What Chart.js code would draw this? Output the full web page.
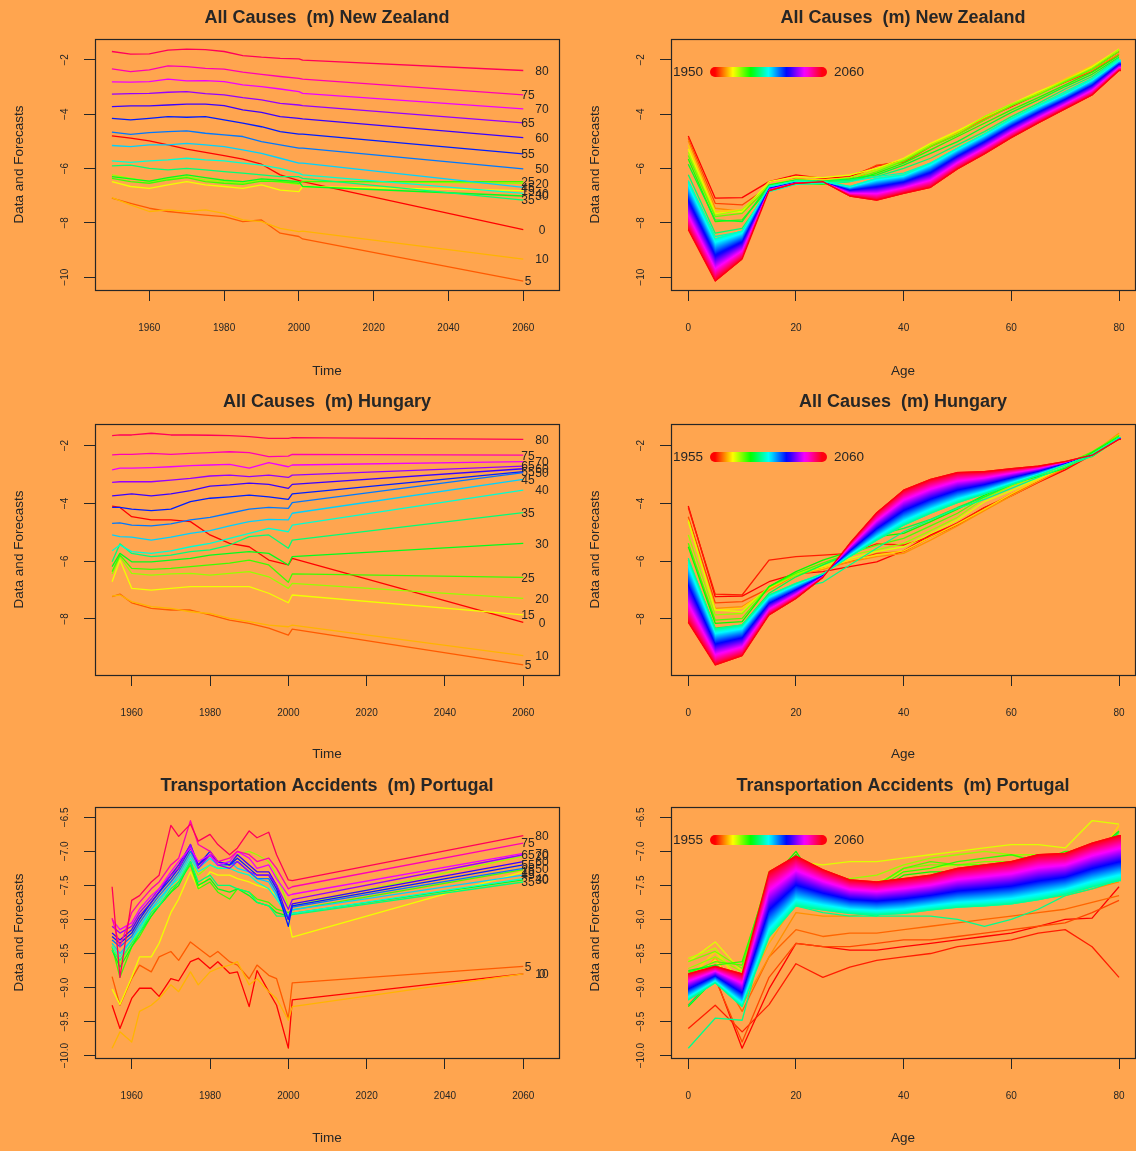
<!DOCTYPE html>
<html>
<head>
<meta charset="utf-8">
<script src="https://cdn.jsdelivr.net/npm/chart.js@4.4.1/dist/chart.umd.min.js"></script>
<style>
  html, body { margin: 0; padding: 0; background: #FFA54F; }
  body { width: 1136px; height: 1151px; position: relative; overflow: hidden; }
  canvas { position: absolute; }
</style>
</head>
<body>
<canvas id="nzTime"></canvas>
<canvas id="nzAge"></canvas>
<canvas id="huTime"></canvas>
<canvas id="huAge"></canvas>
<canvas id="ptTime"></canvas>
<canvas id="ptAge"></canvas>
<script>
// ages 0..80, one series per age
const ages = [0, 5, 10, 15, 20, 25, 30, 35, 40, 45, 50, 55, 60, 65, 70, 75, 80];
const fcStart = 2001;
const fcEnd = 2060;

// New Zealand, all causes (m), log rates
const nzYears = [1950, 1955, 1960, 1965, 1970, 1975, 1980, 1985, 1990, 1995, 2000];
const nzHist = [
  [-4.80, -4.88, -4.98, -5.13, -5.28, -5.40, -5.52, -5.65, -5.84, -6.23, -6.44],
  [-7.09, -7.28, -7.46, -7.58, -7.65, -7.71, -7.77, -7.95, -7.89, -8.38, -8.50],
  [-7.07, -7.34, -7.58, -7.52, -7.58, -7.52, -7.65, -7.89, -7.95, -8.20, -8.32],
  [-6.48, -6.66, -6.73, -6.60, -6.48, -6.60, -6.66, -6.73, -6.60, -6.79, -6.85],
  [-6.23, -6.36, -6.48, -6.38, -6.30, -6.42, -6.48, -6.54, -6.42, -6.50, -6.58],
  [-6.36, -6.48, -6.54, -6.42, -6.33, -6.48, -6.54, -6.58, -6.46, -6.48, -6.54],
  [-6.30, -6.38, -6.46, -6.33, -6.23, -6.33, -6.43, -6.48, -6.38, -6.43, -6.48],
  [-5.90, -5.87, -5.99, -6.05, -5.99, -6.05, -6.11, -6.17, -6.23, -6.30, -6.30],
  [-5.72, -5.77, -5.72, -5.68, -5.62, -5.68, -5.72, -5.80, -5.87, -5.99, -6.17],
  [-5.15, -5.19, -5.13, -5.13, -5.07, -5.13, -5.19, -5.31, -5.44, -5.62, -5.80],
  [-4.66, -4.74, -4.68, -4.64, -4.61, -4.70, -4.76, -4.82, -5.01, -5.13, -5.25],
  [-4.15, -4.21, -4.15, -4.09, -4.11, -4.09, -4.21, -4.33, -4.46, -4.64, -4.73],
  [-3.72, -3.69, -3.69, -3.66, -3.63, -3.63, -3.68, -3.84, -3.93, -4.09, -4.15],
  [-3.26, -3.24, -3.23, -3.19, -3.17, -3.24, -3.29, -3.39, -3.47, -3.60, -3.66],
  [-2.81, -2.82, -2.80, -2.71, -2.77, -2.76, -2.80, -2.92, -2.98, -3.07, -3.17],
  [-2.33, -2.43, -2.37, -2.22, -2.25, -2.31, -2.34, -2.45, -2.53, -2.61, -2.68],
  [-1.69, -1.79, -1.78, -1.64, -1.60, -1.62, -1.69, -1.84, -1.90, -1.94, -1.96]
];
const nzFc2001 = [-6.48, -8.59, -8.30, -6.66, -6.46, -6.48, -6.66, -6.36, -6.23, -5.80, -5.25, -4.73, -4.17, -3.68, -3.23, -2.71, -2.01];
const nzFc2060 = [-8.25, -10.14, -9.33, -6.81, -6.54, -6.48, -7.01, -7.16, -6.91, -6.69, -6.01, -5.46, -4.86, -4.32, -3.80, -3.29, -2.39];

// Hungary, all causes (m)
const huYears = [1955, 1957, 1960, 1965, 1970, 1975, 1980, 1985, 1990, 1995, 2000];
const huHist = [
  [-4.09, -4.14, -4.46, -4.57, -4.57, -4.63, -5.09, -5.38, -5.50, -5.96, -6.13],
  [-7.23, -7.14, -7.44, -7.63, -7.69, -7.69, -7.86, -8.04, -8.15, -8.32, -8.56],
  [-7.21, -7.17, -7.40, -7.57, -7.63, -7.75, -7.81, -7.98, -8.09, -8.21, -8.27],
  [-6.71, -5.96, -6.94, -7.00, -6.94, -6.88, -6.88, -6.88, -6.88, -7.11, -7.44],
  [-6.44, -5.84, -6.42, -6.48, -6.44, -6.42, -6.48, -6.42, -6.36, -6.54, -6.94],
  [-6.36, -5.79, -6.25, -6.28, -6.25, -6.19, -6.13, -6.07, -5.96, -6.13, -6.73],
  [-6.19, -5.73, -6.02, -6.02, -5.96, -5.90, -5.79, -5.73, -5.67, -5.73, -6.13],
  [-6.02, -5.40, -5.73, -5.84, -5.79, -5.67, -5.61, -5.44, -5.15, -5.09, -5.55],
  [-5.64, -5.44, -5.67, -5.73, -5.64, -5.50, -5.38, -5.21, -5.04, -4.86, -4.98],
  [-5.09, -5.15, -5.17, -5.27, -5.17, -5.04, -4.94, -4.78, -4.63, -4.55, -4.57],
  [-4.69, -4.67, -4.75, -4.78, -4.71, -4.57, -4.48, -4.34, -4.20, -4.14, -4.17],
  [-4.14, -4.14, -4.20, -4.25, -4.20, -3.94, -3.82, -3.77, -3.71, -3.77, -3.86],
  [-3.74, -3.71, -3.67, -3.74, -3.67, -3.56, -3.40, -3.36, -3.30, -3.34, -3.48],
  [-3.27, -3.25, -3.25, -3.25, -3.19, -3.13, -3.05, -3.02, -3.07, -3.02, -3.10],
  [-2.84, -2.78, -2.78, -2.76, -2.73, -2.69, -2.67, -2.65, -2.78, -2.59, -2.73],
  [-2.32, -2.30, -2.30, -2.27, -2.30, -2.27, -2.24, -2.21, -2.24, -2.38, -2.36],
  [-1.65, -1.63, -1.63, -1.57, -1.63, -1.63, -1.64, -1.65, -1.69, -1.75, -1.75]
];
const huFc2001 = [-5.90, -8.35, -8.21, -7.17, -6.77, -6.44, -5.84, -5.27, -4.75, -4.34, -3.97, -3.67, -3.34, -3.02, -2.67, -2.30, -1.72];
const huFc2060 = [-8.12, -9.59, -9.27, -7.86, -7.29, -6.56, -5.38, -4.32, -3.54, -3.17, -2.93, -2.90, -2.80, -2.71, -2.55, -2.33, -1.78];

// Portugal, transportation accidents (m)
const ptYears = [1955, 1957, 1960, 1962, 1965, 1967, 1970, 1972, 1975, 1977, 1980, 1982, 1985, 1987, 1990, 1992, 1995, 1997, 2000];
const ptHist = [
  [-9.26, -9.60, -9.16, -9.01, -9.01, -9.13, -8.87, -8.90, -8.62, -8.57, -8.72, -8.62, -8.79, -8.77, -9.28, -8.75, -9.06, -9.26, -9.89],
  [-8.84, -9.26, -8.87, -8.67, -8.77, -8.55, -8.47, -8.60, -8.33, -8.42, -8.55, -8.47, -8.62, -8.67, -8.87, -8.67, -8.82, -8.87, -9.45],
  [-9.89, -9.65, -9.80, -9.35, -9.26, -9.16, -8.96, -9.06, -8.77, -8.96, -8.77, -8.72, -8.67, -8.62, -8.96, -8.87, -9.06, -9.16, -9.48],
  [-9.02, -9.25, -8.85, -8.55, -8.55, -8.35, -7.90, -7.70, -7.30, -7.55, -7.30, -7.35, -7.35, -7.40, -7.45, -7.50, -7.55, -7.65, -8.00],
  [-8.35, -8.65, -8.35, -8.15, -7.90, -7.75, -7.50, -7.40, -7.15, -7.35, -7.20, -7.25, -7.20, -7.05, -7.00, -7.05, -7.15, -7.35, -7.80],
  [-8.40, -8.85, -8.40, -8.25, -7.95, -7.80, -7.60, -7.45, -7.20, -7.55, -7.45, -7.60, -7.70, -7.55, -7.60, -7.70, -7.75, -7.85, -7.90],
  [-8.45, -8.70, -8.40, -8.20, -7.95, -7.80, -7.60, -7.50, -7.15, -7.50, -7.40, -7.55, -7.60, -7.55, -7.65, -7.75, -7.80, -7.90, -7.95],
  [-8.45, -8.60, -8.35, -8.20, -7.90, -7.80, -7.55, -7.45, -7.15, -7.45, -7.35, -7.50, -7.50, -7.55, -7.60, -7.75, -7.80, -7.95, -7.95],
  [-8.40, -8.55, -8.30, -8.15, -7.85, -7.75, -7.50, -7.40, -7.10, -7.30, -7.20, -7.25, -7.25, -7.30, -7.35, -7.45, -7.55, -7.70, -7.95],
  [-8.35, -8.50, -8.30, -8.10, -7.85, -7.70, -7.50, -7.35, -7.05, -7.25, -7.10, -7.20, -7.15, -7.25, -7.30, -7.40, -7.45, -7.65, -7.95],
  [-8.30, -8.40, -8.25, -8.05, -7.80, -7.65, -7.45, -7.30, -7.00, -7.20, -7.05, -7.20, -7.20, -7.15, -7.30, -7.40, -7.40, -7.60, -8.00],
  [-8.25, -8.35, -8.20, -8.00, -7.75, -7.60, -7.40, -7.25, -6.95, -7.20, -7.00, -7.15, -7.20, -7.10, -7.25, -7.35, -7.35, -7.55, -8.10],
  [-8.20, -8.30, -8.15, -7.95, -7.75, -7.60, -7.35, -7.20, -6.90, -7.20, -7.05, -7.15, -7.20, -7.05, -7.20, -7.30, -7.30, -7.50, -8.00],
  [-8.10, -8.20, -8.10, -7.90, -7.70, -7.55, -7.35, -7.25, -6.90, -7.25, -7.05, -7.20, -7.25, -7.15, -7.30, -7.35, -7.35, -7.50, -7.85],
  [-8.00, -8.15, -8.05, -7.85, -7.65, -7.55, -7.30, -7.15, -6.95, -7.15, -7.05, -7.20, -7.15, -7.00, -7.10, -7.25, -7.20, -7.40, -7.65],
  [-7.98, -8.40, -7.90, -7.75, -7.55, -7.45, -7.20, -7.10, -6.55, -6.90, -7.00, -7.15, -7.10, -7.00, -7.05, -7.15, -7.10, -7.25, -7.55],
  [-7.52, -8.85, -7.72, -7.65, -7.45, -7.35, -6.62, -6.78, -6.60, -6.85, -6.75, -6.90, -7.05, -6.95, -6.70, -6.80, -6.72, -7.05, -7.42]
];
const ptFc2001 = [-9.18, -8.93, -9.28, -8.26, -7.80, -7.86, -7.91, -7.93, -7.91, -7.86, -7.82, -7.80, -7.77, -7.71, -7.63, -7.52, -7.43];
const ptFc2060 = [-8.80, -8.69, -8.80, -7.30, -7.07, -7.27, -7.42, -7.45, -7.40, -7.35, -7.25, -7.20, -7.15, -7.05, -7.03, -6.88, -6.77];

// tick labels
const timeTicks = [1960, 1980, 2000, 2020, 2040, 2060];
const ageTicks = [0, 20, 40, 60, 80];
const nzYTicks = [-10, -8, -6, -4, -2];
const huYTicks = [-8, -6, -4, -2];
const ptYTicks = [-10, -9.5, -9, -8.5, -8, -7.5, -7, -6.5];

const FONT = '"Liberation Sans", Arial, Helvetica, sans-serif';
const INK = '#262626';

const hsv = h => `hsl(${h},100%,50%)`;
const ageColor = i => hsv(i * 360 / ages.length);
const yearColor = (yr, y0) => hsv((yr - y0) * 360 / (fcEnd - y0 + 1));
const minusFmt = dec => v => (v < 0 ? '\u2212' : '') + Math.abs(v).toFixed(dec);

// page layout of the six panels
const rows = [
  { top: 0, h: 384, boxTop: 39, boxBottom: 290, titleY: 18 },
  { top: 384, h: 383, boxTop: 40, boxBottom: 291, titleY: 18 },
  { top: 767, h: 384, boxTop: 40, boxBottom: 291, titleY: 19 }
];

const panels = [
  { id: 'nzTime', kind: 'time', row: 0, col: 0, title: 'All Causes  (m) New Zealand', years: nzYears, hist: nzHist, f1: nzFc2001, f2: nzFc2060, yTicks: nzYTicks, dec: 0, yMin: -10.47, yMax: -1.23, xMin: 1945.48, xMax: 2069.55, yPad: 10.5 },
  { id: 'nzAge', kind: 'age', row: 0, col: 1, title: 'All Causes  (m) New Zealand', years: nzYears, hist: nzHist, f1: nzFc2001, f2: nzFc2060, yTicks: nzYTicks, dec: 0, yMin: -10.47, yMax: -1.23, xMin: -3.21, xMax: 82.97, yPad: 10.5 },
  { id: 'huTime', kind: 'time', row: 1, col: 0, title: 'All Causes  (m) Hungary', years: huYears, hist: huHist, f1: huFc2001, f2: huFc2060, yTicks: huYTicks, dec: 0, yMin: -9.94, yMax: -1.25, xMin: 1950.63, xMax: 2069.12, yPad: 13.3 },
  { id: 'huAge', kind: 'age', row: 1, col: 1, title: 'All Causes  (m) Hungary', years: huYears, hist: huHist, f1: huFc2001, f2: huFc2060, yTicks: huYTicks, dec: 0, yMin: -9.94, yMax: -1.25, xMin: -3.21, xMax: 82.97, yPad: 13.3 },
  { id: 'ptTime', kind: 'time', row: 2, col: 0, title: 'Transportation Accidents  (m) Portugal', years: ptYears, hist: ptHist, f1: ptFc2001, f2: ptFc2060, yTicks: ptYTicks, dec: 1, yMin: -10.034, yMax: -6.349, xMin: 1950.63, xMax: 2069.12, yPad: 6.4 },
  { id: 'ptAge', kind: 'age', row: 2, col: 1, title: 'Transportation Accidents  (m) Portugal', years: ptYears, hist: ptHist, f1: ptFc2001, f2: ptFc2060, yTicks: ptYTicks, dec: 1, yMin: -10.034, yMax: -6.349, xMin: -3.21, xMax: 82.97, yPad: 6.4 }
];

// box round the plot region and the panel title
const framePlugin = {
  id: 'frame',
  afterDraw(chart, args, o) {
    const { ctx, chartArea: ca } = chart;
    ctx.save();
    ctx.strokeStyle = INK;
    ctx.lineWidth = 1.2;
    ctx.strokeRect(Math.round(ca.left) + 0.5, Math.round(ca.top) + 0.5, Math.round(ca.width), Math.round(ca.height));
    ctx.fillStyle = INK;
    ctx.font = 'bold 18px ' + FONT;
    ctx.textAlign = 'center';
    ctx.textBaseline = 'middle';
    ctx.fillText(o.text, (ca.left + ca.right) / 2, o.y);
    ctx.restore();
  }
};

// age labels at the 2060 ends of the forecast lines
const endLabels = {
  id: 'endLabels',
  afterDatasetsDraw(chart, args, o) {
    if (!o.ends) return;
    const { ctx } = chart;
    const xs = chart.scales.x, ys = chart.scales.y;
    const x0 = xs.getPixelForValue(fcEnd);
    ctx.save();
    ctx.font = '12px ' + FONT;
    ctx.fillStyle = INK;
    ctx.textAlign = 'center';
    ctx.textBaseline = 'middle';
    ages.forEach((a, i) => {
      ctx.fillText(String(a), x0 + (i % 2 ? 4.7 : 18.7), ys.getPixelForValue(o.ends[i]) + 1);
    });
    ctx.restore();
  }
};

// the forecast years fill the space between the 2001 and 2060 profiles
const bandPlugin = {
  id: 'fcBand',
  beforeDatasetDraw(chart, args) {
    const ds = chart.data.datasets[args.index];
    if (!ds.band) return;
    const { lo, hi, y0 } = ds.band;
    const { ctx, chartArea: ca } = chart;
    const xs = chart.scales.x, ys = chart.scales.y;
    const px = ages.map(a => xs.getPixelForValue(a));
    const pa = lo.map(v => ys.getPixelForValue(v));
    const pb = hi.map(v => ys.getPixelForValue(v));
    const n = 24;
    ctx.save();
    ctx.beginPath();
    ctx.rect(ca.left, ca.top, ca.width, ca.height);
    ctx.clip();
    const last = px.length - 1;
    for (let c = Math.floor(px[0]); c <= Math.ceil(px[last]); c++) {
      const cx = Math.min(Math.max(c + 0.5, px[0]), px[last]);
      let k = 0;
      while (k < last - 1 && cx > px[k + 1]) k++;
      const t = (cx - px[k]) / (px[k + 1] - px[k]);
      const ya = pa[k] + t * (pa[k + 1] - pa[k]);
      const yb = pb[k] + t * (pb[k + 1] - pb[k]);
      if (Math.abs(yb - ya) < 0.5) {
        ctx.fillStyle = yearColor((fcStart + fcEnd) / 2, y0);
      } else {
        const g = ctx.createLinearGradient(0, ya, 0, yb);
        for (let s = 0; s <= n; s++) g.addColorStop(s / n, yearColor(fcStart + (fcEnd - fcStart) * s / n, y0));
        ctx.fillStyle = g;
      }
      ctx.fillRect(c, Math.min(ya, yb) - 0.7, 1, Math.abs(yb - ya) + 1.4);
    }
    ctx.restore();
  }
};

// "1950 ===== 2060" colour key
const yearKey = {
  id: 'yearKey',
  afterDraw(chart, args, o) {
    if (o.y0 == null) return;
    const { ctx, chartArea: ca } = chart;
    const yc = ca.top + 33;
    const x1 = ca.left + 44, x2 = ca.left + 151;
    ctx.save();
    const g = ctx.createLinearGradient(x1, 0, x2, 0);
    const n = 30;
    for (let s = 0; s <= n; s++) g.addColorStop(s / n, yearColor(o.y0 + (fcEnd - o.y0) * s / n, o.y0));
    ctx.strokeStyle = g;
    ctx.lineWidth = 10;
    ctx.lineCap = 'round';
    ctx.beginPath();
    ctx.moveTo(x1, yc);
    ctx.lineTo(x2, yc);
    ctx.stroke();
    ctx.fillStyle = INK;
    ctx.font = '13.5px ' + FONT;
    ctx.textBaseline = 'middle';
    ctx.textAlign = 'right';
    ctx.fillText(String(o.y0), ca.left + 32, yc);
    ctx.textAlign = 'left';
    ctx.fillText(String(fcEnd), ca.left + 163, yc);
    ctx.restore();
  }
};

function timeSets(p) {
  return ages.map((a, i) => ({
    data: p.years.map((yr, j) => ({ x: yr, y: p.hist[i][j] }))
      .concat([{ x: fcStart, y: p.f1[i] }, { x: fcEnd, y: p.f2[i] }]),
    borderColor: ageColor(i),
    order: 100 - i
  }));
}

function ageSets(p) {
  const y0 = p.years[0];
  const sets = p.years.map((yr, j) => ({
    data: ages.map((a, i) => ({ x: a, y: p.hist[i][j] })),
    borderColor: yearColor(yr, y0),
    order: 1000 - j
  }));
  sets.push({
    data: ages.map((a, i) => ({ x: a, y: p.f1[i] })),
    borderColor: yearColor(fcStart, y0),
    order: 1,
    band: { lo: p.f1, hi: p.f2, y0 }
  });
  sets.push({
    data: ages.map((a, i) => ({ x: a, y: p.f2[i] })),
    borderColor: yearColor(fcEnd, y0),
    order: 0
  });
  return sets;
}

function build(p) {
  const row = rows[p.row];
  const cv = document.getElementById(p.id);
  cv.width = 568;
  cv.height = row.h;
  cv.style.left = (p.col * 568) + 'px';
  cv.style.top = row.top + 'px';
  const isTime = p.kind === 'time';
  const tickGrid = { drawOnChartArea: false, drawTicks: true, tickLength: 11, color: INK, lineWidth: 1 };

  new Chart(cv, {
    type: 'line',
    data: { datasets: isTime ? timeSets(p) : ageSets(p) },
    options: {
      responsive: false,
      animation: false,
      devicePixelRatio: 1,
      layout: { padding: { left: p.col ? 8 : 0, right: p.col ? 1 : 9, top: row.boxTop, bottom: 0 } },
      elements: { point: { radius: 0 }, line: { borderWidth: 1.3, tension: 0, fill: false, borderJoinStyle: 'round' } },
      plugins: {
        legend: { display: false },
        tooltip: { enabled: false },
        frame: { text: p.title, y: row.titleY },
        endLabels: { ends: isTime ? p.f2 : null },
        yearKey: { y0: isTime ? null : p.years[0] }
      },
      scales: {
        x: {
          type: 'linear',
          min: p.xMin,
          max: p.xMax,
          afterBuildTicks: s => { s.ticks = (isTime ? timeTicks : ageTicks).map(v => ({ value: v })); },
          afterFit: s => { s.height = row.h - row.boxBottom; s.paddingLeft = 0; s.paddingRight = 0; },
          grid: tickGrid,
          border: { display: false },
          ticks: { font: { family: FONT, size: 10 }, color: INK, padding: 21, maxRotation: 0, autoSkip: false, callback: v => String(v) },
          title: { display: true, text: isTime ? 'Time' : 'Age', font: { family: FONT, size: 13.5 }, color: INK, padding: { top: 0, bottom: 5 } }
        },
        y: {
          type: 'linear',
          min: p.yMin,
          max: p.yMax,
          afterBuildTicks: s => { s.ticks = p.yTicks.map(v => ({ value: v })); },
          afterFit: s => { s.width = 95; s.paddingTop = 0; s.paddingBottom = 0; },
          grid: tickGrid,
          border: { display: false },
          ticks: { font: { family: FONT, size: 10 }, color: INK, minRotation: 90, maxRotation: 90, crossAlign: 'center', padding: p.yPad, autoSkip: false, callback: minusFmt(p.dec) },
          title: { display: true, text: 'Data and Forecasts', font: { family: FONT, size: 13.5 }, color: INK, padding: { top: 11, bottom: 0 } }
        }
      }
    },
    plugins: [bandPlugin, endLabels, yearKey, framePlugin]
  });
}

panels.forEach(build);
</script>
</body>
</html>
